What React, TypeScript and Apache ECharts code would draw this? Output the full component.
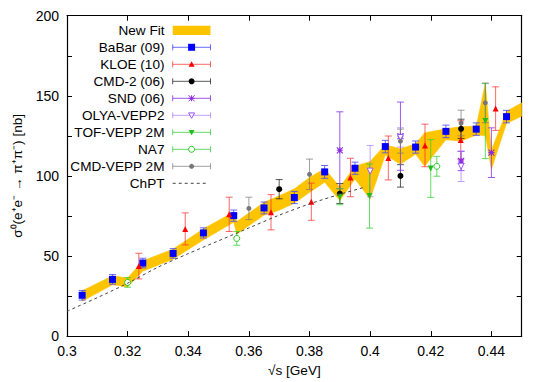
import { useEffect, useRef } from 'react';
import * as echarts from 'echarts';

type Pt = [number, number, number]; // [sqrt(s), sigma, error]

const FONT = "'Liberation Sans', Arial, Helvetica, sans-serif";

// ---- New Fit band (x, lower, upper)
const bandX = [0.305, 0.315, 0.32, 0.325, 0.335, 0.345, 0.355, 0.356, 0.365, 0.37, 0.375, 0.38, 0.385, 0.39, 0.395, 0.4, 0.405, 0.41, 0.415, 0.418, 0.425, 0.43, 0.435, 0.438, 0.44, 0.445, 0.45];
const bandLo = [21.7, 32, 30.7, 40.5, 48, 60, 71, 63.5, 75.5, 78.5, 83, 89.7, 96, 84.5, 98, 85.5, 113, 107.3, 113.5, 106, 122.5, 121.7, 125.5, 125, 104, 132.7, 137.3];
const bandHi = [28.3, 37.7, 36.3, 47, 54.3, 67, 77.5, 71.5, 83.5, 87.6, 92, 99, 104.6, 93, 106, 109, 119.5, 117, 120, 127, 129.4, 130.8, 131, 158, 116, 140.4, 145.6];

// ---- ChPT curve
const chptX = [0.3, 0.31, 0.32, 0.33, 0.34, 0.35, 0.36, 0.37, 0.38, 0.39, 0.398];
const chptY = [15.5, 24, 33, 43, 51.5, 59.5, 67.5, 75.5, 82.5, 88.5, 92.8];

// ---- Experiments
const babar: Pt[] = [
  [0.305, 25.5, 3], [0.315, 35.4, 3], [0.325, 45.6, 3], [0.335, 51.6, 3], [0.345, 64.4, 3.2],
  [0.355, 75.2, 3.5], [0.365, 80.0, 3.7], [0.375, 86.5, 3.8], [0.385, 102.5, 4], [0.395, 104.8, 3.8],
  [0.405, 118.3, 3.9], [0.415, 118.0, 3.8], [0.425, 127.8, 3.9], [0.435, 129.2, 3.9], [0.445, 137.0, 3.9],
];
const kloe: Pt[] = [
  [0.3237, 43.7, 8], [0.339, 66.9, 10], [0.3535, 76.0, 10.7], [0.3673, 77.3, 11], [0.3806, 83.9, 11.6],
  [0.3935, 99.0, 12], [0.406, 111.2, 13.7], [0.4181, 119.0, 13.3], [0.4299, 122.4, 12], [0.4414, 142.0, 13.6],
];
const cmd2: Pt[] = [[0.37, 91.7, 6], [0.39, 89.0, 6.2], [0.41, 100.0, 7], [0.43, 129.4, 6]];
const snd: Pt[] = [[0.39, 116.0, 24], [0.41, 124.8, 21.3], [0.43, 109.3, 6], [0.44, 114.5, 15.5]];
const olya: Pt[] = [[0.4, 103.0, 16], [0.41, 124.0, 6], [0.43, 106.0, 9.5]];
const tof: Pt[] = [[0.39, 87.0, 5], [0.3998, 87.4, 20], [0.42, 104.6, 18], [0.438, 134.2, 23.4]];
const na7: Pt[] = [[0.32, 33.5, 3], [0.356, 61.0, 4.3], [0.422, 106.0, 6.2]];
const cmdvepp: Pt[] = [[0.36, 79.7, 7], [0.38, 101.0, 9.5], [0.41, 121.7, 7.5], [0.43, 133.0, 8], [0.438, 145.6, 12.4]];

type Kind = 'square' | 'tri' | 'circle' | 'star' | 'tridownOpen' | 'tridown' | 'circleOpen' | 'dot';
interface Exp { name: string; data: Pt[]; color: string; bar: string; kind: Kind; size: number; }

const experiments: Exp[] = [
  { name: 'BaBar (09)', data: babar, color: '#0000ff', bar: 'rgba(70,70,255,0.8)', kind: 'square', size: 7 },
  { name: 'KLOE (10)', data: kloe, color: '#ff0000', bar: 'rgba(255,50,50,0.75)', kind: 'tri', size: 6 },
  { name: 'CMD-2 (06)', data: cmd2, color: '#000000', bar: 'rgba(0,0,0,0.65)', kind: 'circle', size: 6 },
  { name: 'SND (06)', data: snd, color: '#8a2be2', bar: 'rgba(140,60,235,0.85)', kind: 'star', size: 6 },
  { name: 'OLYA-VEPP2', data: olya, color: '#9955ff', bar: 'rgba(160,110,255,0.65)', kind: 'tridownOpen', size: 6 },
  { name: 'TOF-VEPP 2M', data: tof, color: '#22bb22', bar: 'rgba(50,205,50,0.75)', kind: 'tridown', size: 6 },
  { name: 'NA7', data: na7, color: '#22cc22', bar: 'rgba(50,205,50,0.75)', kind: 'circleOpen', size: 6 },
  { name: 'CMD-VEPP 2M', data: cmdvepp, color: '#777777', bar: 'rgba(120,120,120,0.7)', kind: 'dot', size: 5 },
];

const ASTERISK = 'path://M0,0L10,10M10,0L0,10M5,0L5,10M0,5L10,5';

function symbolOf(k: Kind): { symbol: string; rotate: number; open: boolean; stroke: boolean } {
  switch (k) {
    case 'square': return { symbol: 'rect', rotate: 0, open: false, stroke: false };
    case 'tri': return { symbol: 'triangle', rotate: 0, open: false, stroke: false };
    case 'circle': case 'dot': return { symbol: 'circle', rotate: 0, open: false, stroke: false };
    case 'star': return { symbol: ASTERISK, rotate: 0, open: false, stroke: true };
    case 'tridownOpen': return { symbol: 'triangle', rotate: 180, open: true, stroke: false };
    case 'tridown': return { symbol: 'triangle', rotate: 180, open: false, stroke: false };
    case 'circleOpen': return { symbol: 'circle', rotate: 0, open: true, stroke: false };
  }
}

function legendMarker(k: Kind, cx: number, cy: number, color: string, size: number): any {
  const h = size / 2;
  switch (k) {
    case 'square':
      return { type: 'rect', shape: { x: cx - h, y: cy - h, width: size, height: size }, style: { fill: color } };
    case 'tri':
      return { type: 'polygon', shape: { points: [[cx, cy - h], [cx + h, cy + h * 0.8], [cx - h, cy + h * 0.8]] }, style: { fill: color } };
    case 'tridown':
      return { type: 'polygon', shape: { points: [[cx, cy + h], [cx + h, cy - h * 0.8], [cx - h, cy - h * 0.8]] }, style: { fill: color } };
    case 'tridownOpen':
      return { type: 'polygon', shape: { points: [[cx, cy + h], [cx + h, cy - h * 0.8], [cx - h, cy - h * 0.8]] }, style: { fill: '#fff', stroke: color, lineWidth: 1 } };
    case 'circle': case 'dot':
      return { type: 'circle', shape: { cx, cy, r: h }, style: { fill: color } };
    case 'circleOpen':
      return { type: 'circle', shape: { cx, cy, r: h }, style: { fill: '#fff', stroke: color, lineWidth: 1 } };
    case 'star':
      return {
        type: 'group', children: [
          { type: 'line', shape: { x1: cx - h, y1: cy - h, x2: cx + h, y2: cy + h }, style: { stroke: color, lineWidth: 1 } },
          { type: 'line', shape: { x1: cx + h, y1: cy - h, x2: cx - h, y2: cy + h }, style: { stroke: color, lineWidth: 1 } },
          { type: 'line', shape: { x1: cx, y1: cy - h, x2: cx, y2: cy + h }, style: { stroke: color, lineWidth: 1 } },
          { type: 'line', shape: { x1: cx - h, y1: cy, x2: cx + h, y2: cy }, style: { stroke: color, lineWidth: 1 } },
        ],
      };
  }
}

function buildOption(): any {
  const series: any[] = [];

  series.push({
    type: 'custom',
    name: 'New Fit',
    data: bandX.map((x, i) => [x, bandLo[i], bandHi[i]]),
    encode: { x: 0, y: [1, 2] },
    silent: true,
    z: 1,
    renderItem: (params: any, api: any) => {
      if (params.dataIndex !== 0) return null;
      const up = bandX.map((x, i) => api.coord([x, bandHi[i]]));
      const lo = bandX.map((x, i) => api.coord([x, bandLo[i]])).reverse();
      return { type: 'polygon', shape: { points: up.concat(lo) }, style: { fill: '#ffc400', stroke: '#ffc400', lineWidth: 0.5 } };
    },
  });

  experiments.forEach((exp) => {
    series.push({
      type: 'custom',
      name: exp.name + ' errors',
      data: exp.data,
      encode: { x: 0, y: 1 },
      silent: true,
      z: 3,
      renderItem: (_p: any, api: any) => {
        const x = api.value(0), y = api.value(1), e = api.value(2);
        const a = api.coord([x, y + e]);
        const b = api.coord([x, y - e]);
        const w = 3.5;
        const style = { stroke: exp.bar, lineWidth: 1 };
        return {
          type: 'group', children: [
            { type: 'line', shape: { x1: a[0], y1: a[1], x2: b[0], y2: b[1] }, style },
            { type: 'line', shape: { x1: a[0] - w, y1: a[1], x2: a[0] + w, y2: a[1] }, style },
            { type: 'line', shape: { x1: b[0] - w, y1: b[1], x2: b[0] + w, y2: b[1] }, style },
          ],
        };
      },
    });
    const s = symbolOf(exp.kind);
    series.push({
      type: 'scatter',
      name: exp.name,
      data: exp.data.map((d) => [d[0], d[1]]),
      symbol: s.symbol,
      symbolSize: exp.size,
      symbolRotate: s.rotate,
      silent: true,
      z: 4,
      itemStyle: s.stroke
        ? { color: 'rgba(0,0,0,0)', borderColor: exp.color, borderWidth: 1.1, opacity: 1 }
        : s.open
          ? { color: '#ffffff', borderColor: exp.color, borderWidth: 1, opacity: 1 }
          : { color: exp.color, opacity: 1 },
    });
  });

  series.push({
    type: 'line',
    name: 'ChPT',
    data: chptX.map((x, i) => [x, chptY[i]]),
    showSymbol: false,
    symbol: 'none',
    smooth: 0.3,
    silent: true,
    z: 5,
    lineStyle: { color: '#444444', width: 1, type: [3, 3] },
  });

  // legend (gnuplot style, drawn with graphic elements)
  const legendRows = ['New Fit', ...experiments.map((e) => e.name), 'ChPT'];
  const textRight = 164.5;
  const sx1 = 172.7, sx2 = 210.5, scx = (sx1 + sx2) / 2;
  const y0 = 30.3, dy = 17;
  const g: any[] = [];
  legendRows.forEach((name, i) => {
    const cy = y0 + i * dy;
    g.push({
      type: 'text', x: textRight, y: cy, silent: true,
      style: { text: name, align: 'right', verticalAlign: 'middle', fontSize: 13.6, fontFamily: FONT, fill: '#000' },
    });
    if (i === 0) {
      g.push({ type: 'rect', shape: { x: sx1, y: cy - 4.6, width: sx2 - sx1, height: 9.2 }, style: { fill: '#ffc400' }, silent: true });
    } else if (name === 'ChPT') {
      g.push({ type: 'line', shape: { x1: sx1, y1: cy, x2: sx2 - 2, y2: cy }, style: { stroke: '#444', lineWidth: 1, lineDash: [3, 3] }, silent: true });
    } else {
      const exp = experiments[i - 1];
      const st = { stroke: exp.bar, lineWidth: 1 };
      g.push({ type: 'line', shape: { x1: sx1, y1: cy, x2: sx2, y2: cy }, style: st, silent: true });
      g.push({ type: 'line', shape: { x1: sx1, y1: cy - 3, x2: sx1, y2: cy + 3 }, style: st, silent: true });
      g.push({ type: 'line', shape: { x1: sx2, y1: cy - 3, x2: sx2, y2: cy + 3 }, style: st, silent: true });
      const m = legendMarker(exp.kind, scx, cy, exp.color, exp.size);
      m.silent = true;
      g.push(m);
    }
  });

  const axisLine = { show: true, onZero: false, lineStyle: { color: '#000', width: 1.2 } };
  const axisTick = { show: true, inside: true, length: 5, lineStyle: { color: '#000', width: 1 } };
  const labelStyle = { color: '#000', fontSize: 14, fontFamily: FONT };

  return {
    animation: false,
    backgroundColor: '#ffffff',
    grid: { left: 67, right: 23.3, top: 15.7, bottom: 44.3, containLabel: false },
    xAxis: [
      {
        type: 'value', min: 0.3, max: 0.45, interval: 0.02, position: 'bottom',
        name: '√s [GeV]', nameLocation: 'middle', nameGap: 23,
        nameTextStyle: { ...labelStyle, fontSize: 13.6 },
        axisLine, axisTick,
        axisLabel: {
          ...labelStyle, margin: 8, showMaxLabel: false,
          formatter: (v: number) => (Math.abs(v - 0.45) < 1e-9 ? '' : String(Math.round(v * 100) / 100)),
        },
        splitLine: { show: false },
      },
      {
        type: 'value', min: 0.3, max: 0.45, interval: 0.02, position: 'top',
        axisLine, axisTick, axisLabel: { show: false }, splitLine: { show: false },
      },
    ],
    yAxis: [
      {
        type: 'value', min: 0, max: 200, interval: 25, position: 'left',
        name: 'σ⁰(e⁺e⁻ → π⁺π⁻) [nb]', nameLocation: 'middle', nameGap: 42, nameRotate: 90,
        nameTextStyle: { ...labelStyle, fontSize: 13.6 },
        axisLine, axisTick,
        axisLabel: { ...labelStyle, margin: 8, formatter: (v: number) => (v % 50 === 0 ? String(v) : '') },
        splitLine: { show: false },
      },
      {
        type: 'value', min: 0, max: 200, interval: 25, position: 'right',
        axisLine, axisTick, axisLabel: { show: false }, splitLine: { show: false },
      },
    ],
    graphic: { elements: g },
    series,
  };
}

export default function App() {
  const ref = useRef<HTMLDivElement>(null);
  useEffect(() => {
    if (!ref.current) return;
    const chart = echarts.init(ref.current, undefined, { renderer: 'svg' });
    chart.setOption(buildOption());
    return () => chart.dispose();
  }, []);
  return (
    <div
      ref={ref}
      style={{ position: 'absolute', left: 0, top: 0, width: 545, height: 382, background: '#fff' }}
    />
  );
}
